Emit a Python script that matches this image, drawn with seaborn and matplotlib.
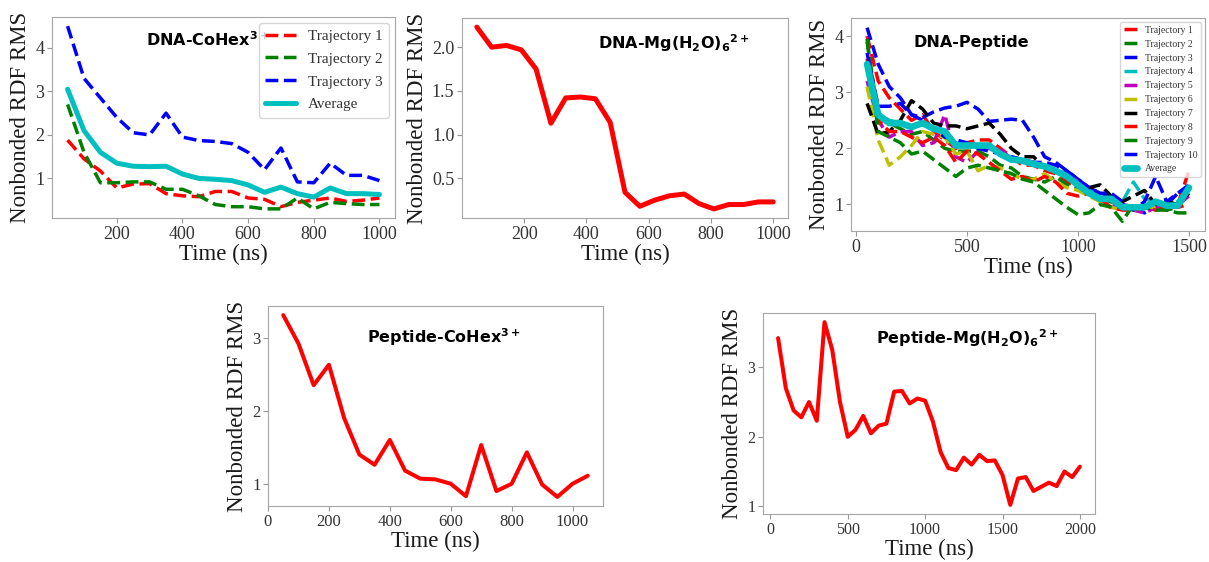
import numpy as np
import matplotlib
matplotlib.use("Agg")
import matplotlib.pyplot as plt
import seaborn as sns

# ---------------- data ----------------
# DNA-CoHex3+ (three trajectories + their average)
t_cohex = np.arange(50, 1001, 50)
cohex_traj1 = [1.88, 1.45, 1.17, 0.78, 0.87, 0.88, 0.65, 0.60, 0.58, 0.70,
               0.70, 0.55, 0.52, 0.35, 0.45, 0.50, 0.55, 0.47, 0.50, 0.55]
cohex_traj2 = [2.70, 1.60, 0.90, 0.90, 0.92, 0.92, 0.75, 0.75, 0.60, 0.40,
               0.35, 0.35, 0.30, 0.30, 0.55, 0.30, 0.45, 0.42, 0.40, 0.40]
cohex_traj3 = [4.50, 3.30, 2.85, 2.40, 2.05, 2.00, 2.50, 1.95, 1.87, 1.85,
               1.80, 1.60, 1.20, 1.70, 0.92, 0.90, 1.35, 1.07, 1.07, 0.95]
cohex_avg = [3.05, 2.10, 1.60, 1.35, 1.28, 1.27, 1.28, 1.10, 1.00, 0.98,
             0.95, 0.85, 0.68, 0.80, 0.65, 0.57, 0.78, 0.65, 0.65, 0.63]

# DNA-Mg(H2O)6 2+
t_mg = np.linspace(1000 / 21, 1000, 21)
mg_rms = [2.23, 2.00, 2.02, 1.97, 1.75, 1.13, 1.42, 1.43, 1.41, 1.14, 0.34,
          0.18, 0.25, 0.30, 0.32, 0.21, 0.15, 0.20, 0.20, 0.23, 0.23]

# DNA-Peptide (ten trajectories + average)
t_pep = np.arange(50, 1501, 50)
pep_traj = {
    "Trajectory 1": [4.00, 3.20, 2.90, 2.70, 2.50, 2.60, 2.30, 2.15, 2.00, 2.10,
                     2.15, 2.15, 2.00, 1.85, 1.70, 1.70, 1.60, 1.55, 1.40, 1.30,
                     1.15, 1.10, 1.05, 1.00, 0.95, 0.95, 0.95, 0.90, 1.00, 1.60],
    "Trajectory 2": [3.90, 2.60, 2.45, 2.35, 2.25, 2.30, 2.15, 2.00, 1.95, 1.95,
                     1.95, 1.85, 1.70, 1.65, 1.50, 1.45, 1.40, 1.50, 1.35, 1.30,
                     1.20, 1.10, 1.05, 0.95, 0.90, 0.95, 1.00, 0.90, 0.95, 1.20],
    "Trajectory 3": [4.15, 3.50, 3.10, 2.90, 2.60, 2.55, 2.65, 2.72, 2.75, 2.82,
                     2.70, 2.48, 2.50, 2.52, 2.50, 2.20, 1.85, 1.75, 1.60, 1.45,
                     1.30, 1.20, 1.15, 1.00, 0.95, 0.85, 0.95, 1.00, 1.20, 1.30],
    "Trajectory 4": [3.40, 2.60, 2.50, 2.45, 2.40, 2.45, 2.35, 2.25, 2.10, 2.05,
                     2.05, 2.00, 1.90, 1.85, 1.80, 1.75, 1.70, 1.60, 1.55, 1.40,
                     1.25, 1.15, 1.10, 1.05, 1.40, 1.10, 1.05, 1.00, 1.05, 1.30],
    "Trajectory 5": [3.20, 2.50, 2.20, 2.30, 2.30, 2.05, 2.10, 2.60, 1.85, 1.75,
                     1.95, 2.00, 2.00, 1.80, 1.75, 1.75, 1.70, 1.60, 1.55, 1.40,
                     1.20, 1.10, 1.00, 0.95, 0.90, 0.85, 0.95, 1.00, 1.00, 1.15],
    "Trajectory 6": [3.10, 2.15, 1.70, 1.85, 2.05, 2.30, 2.25, 2.20, 1.90, 1.95,
                     1.60, 1.70, 1.65, 1.55, 1.45, 1.45, 1.55, 1.40, 1.30, 1.25,
                     1.15, 1.05, 0.95, 0.90, 0.90, 0.95, 0.95, 1.00, 1.05, 1.20],
    "Trajectory 7": [2.80, 2.25, 2.30, 2.50, 2.85, 2.70, 2.45, 2.40, 2.40, 2.35,
                     2.40, 2.45, 2.25, 2.00, 1.85, 1.85, 1.65, 1.60, 1.50, 1.35,
                     1.30, 1.35, 1.15, 1.05, 1.15, 1.25, 1.00, 1.05, 1.00, 1.20],
    "Trajectory 8": [3.60, 2.50, 2.30, 2.30, 2.20, 2.10, 2.20, 2.05, 1.75, 1.95,
                     1.90, 1.75, 1.60, 1.45, 1.50, 1.40, 1.50, 1.40, 1.20, 1.15,
                     1.20, 1.10, 0.95, 0.90, 0.90, 0.95, 0.90, 0.95, 0.95, 1.00],
    "Trajectory 9": [3.95, 2.30, 2.20, 2.10, 1.90, 1.95, 1.80, 1.65, 1.50, 1.65,
                     1.70, 1.65, 1.60, 1.55, 1.45, 1.40, 1.25, 1.10, 0.95, 0.82,
                     0.85, 1.00, 0.95, 0.70, 1.00, 0.95, 0.90, 0.90, 0.85, 0.85],
    "Trajectory 10": [3.70, 2.75, 2.75, 2.80, 2.60, 2.50, 2.35, 2.20, 2.15, 2.10,
                      2.00, 1.95, 1.90, 1.85, 1.80, 1.75, 1.75, 1.70, 1.60, 1.45,
                      1.30, 1.20, 1.20, 1.05, 0.90, 1.05, 1.50, 1.05, 1.20, 1.35],
}
pep_avg = [3.50, 2.60, 2.45, 2.45, 2.38, 2.45, 2.35, 2.30, 2.05, 2.05,
           2.05, 2.05, 1.90, 1.80, 1.78, 1.72, 1.68, 1.60, 1.50, 1.35,
           1.20, 1.10, 1.10, 0.95, 0.95, 0.95, 1.05, 0.98, 0.98, 1.30]
pep_colors = ["r", "g", "b", "c", "m", "y", "k", "r", "g", "b"]

# Peptide-CoHex3+
t_pcohex = np.arange(50, 1051, 50)
pcohex_rms = [3.31, 2.92, 2.35, 2.63, 1.90, 1.40, 1.26, 1.60, 1.18, 1.07, 1.06,
              1.00, 0.83, 1.53, 0.90, 1.00, 1.43, 0.99, 0.82, 1.00, 1.11]

# Peptide-Mg(H2O)6 2+
t_pmg = np.arange(50, 2001, 50)
pmg_rms = [3.42, 2.70, 2.38, 2.28, 2.50, 2.23, 3.65, 3.25, 2.50, 2.00,
           2.10, 2.30, 2.05, 2.16, 2.19, 2.65, 2.66, 2.48, 2.55, 2.52,
           2.22, 1.78, 1.55, 1.52, 1.70, 1.60, 1.74, 1.65, 1.66, 1.45,
           1.02, 1.40, 1.42, 1.22, 1.28, 1.34, 1.29, 1.50, 1.42, 1.57]

# ---------------- style ----------------
sns.set_style("white", rc={
    "axes.edgecolor": "0.65",
    "axes.linewidth": 0.9,
    "xtick.bottom": True,
    "ytick.left": True,
    "xtick.color": "0.6",
    "ytick.color": "0.6",
    "xtick.major.size": 2.5,
    "ytick.major.size": 2.5,
    "xtick.major.width": 0.8,
    "ytick.major.width": 0.8,
})
plt.rcParams["font.family"] = ["Liberation Serif", "DejaVu Sans"]
plt.rcParams["mathtext.fontset"] = "dejavusans"
plt.rcParams["mathtext.default"] = "bf"

W, H = 1209, 562
fig = plt.figure(figsize=(W / 100, H / 100), dpi=100)


def make_axes(left, top, right, bottom):
    return fig.add_axes([left / W, 1 - bottom / H, (right - left) / W, (bottom - top) / H])


def finish(ax, title, tx, ty, tick_size):
    ax.set_xlabel("Time (ns)", fontsize=16.5, color="0.1", labelpad=1)
    ax.set_ylabel("Nonbonded RDF RMS", fontsize=16.5, color="0.1", labelpad=3)
    ax.tick_params(labelsize=tick_size, pad=2, labelcolor="0.2")
    ax.text(tx, ty, title, transform=ax.transAxes, ha="center", va="center",
            fontsize=11.5, fontweight="bold", family="DejaVu Sans", color="black")


# Panel 1: DNA-CoHex3+
ax1 = make_axes(52, 17, 395, 218)
sns.lineplot(x=t_cohex, y=cohex_traj1, ax=ax1, color="r", linestyle="--", lw=2.5, label="Trajectory 1")
sns.lineplot(x=t_cohex, y=cohex_traj2, ax=ax1, color="g", linestyle="--", lw=2.5, label="Trajectory 2")
sns.lineplot(x=t_cohex, y=cohex_traj3, ax=ax1, color="b", linestyle="--", lw=2.5, label="Trajectory 3")
sns.lineplot(x=t_cohex, y=cohex_avg, ax=ax1, color="c", linestyle="-", lw=3.6, label="Average")
ax1.set_xticks([200, 400, 600, 800, 1000])
ax1.set_yticks([1, 2, 3, 4])
finish(ax1, r"DNA-CoHex$^{3+}$", 0.455, 0.885, 13)
leg1 = ax1.legend(loc="upper right", fontsize=11, labelspacing=0.6, borderaxespad=0.4)
for t in leg1.get_texts():
    t.set_color("0.2")

# Panel 2: DNA-Mg(H2O)6 2+
ax2 = make_axes(462, 18, 788, 218)
sns.lineplot(x=t_mg, y=mg_rms, ax=ax2, color="r", lw=3.6)
ax2.set_xticks([200, 400, 600, 800, 1000])
ax2.set_yticks([0.5, 1.0, 1.5, 2.0])
ax2.set_yticklabels(["0.5", "1.0", "1.5", "2.0"])
finish(ax2, r"DNA-Mg(H$_2$O)$_6$$^{2+}$", 0.649, 0.875, 13)

# Panel 3: DNA-Peptide
ax3 = make_axes(851, 18, 1205, 231)
for (name, vals), col in zip(pep_traj.items(), pep_colors):
    sns.lineplot(x=t_pep, y=vals, ax=ax3, color=col, linestyle="--", lw=2.5, label=name)
sns.lineplot(x=t_pep, y=pep_avg, ax=ax3, color="c", linestyle="-", lw=4.8, label="Average")
ax3.set_xticks([0, 500, 1000, 1500])
ax3.set_yticks([1, 2, 3, 4])
finish(ax3, "DNA-Peptide", 0.339, 0.884, 13)
leg3 = ax3.legend(loc="upper right", fontsize=7, labelspacing=0.5, borderaxespad=0.4,
                  handlelength=1.3)
for t in leg3.get_texts():
    t.set_color("0.2")

# Panel 4: Peptide-CoHex3+
ax4 = make_axes(268, 306, 603, 506)
sns.lineplot(x=t_pcohex, y=pcohex_rms, ax=ax4, color="r", lw=2.9)
ax4.set_xticks([0, 200, 400, 600, 800, 1000])
ax4.set_yticks([1, 2, 3])
finish(ax4, r"Peptide-CoHex$^{3+}$", 0.525, 0.846, 12)

# Panel 5: Peptide-Mg(H2O)6 2+
ax5 = make_axes(763, 313, 1095, 514)
sns.lineplot(x=t_pmg, y=pmg_rms, ax=ax5, color="r", lw=2.9)
ax5.set_xticks([0, 500, 1000, 1500, 2000])
ax5.set_yticks([1, 2, 3])
finish(ax5, r"Peptide-Mg(H$_2$O)$_6$$^{2+}$", 0.615, 0.876, 11.5)

fig.savefig("out.png", dpi=100)
